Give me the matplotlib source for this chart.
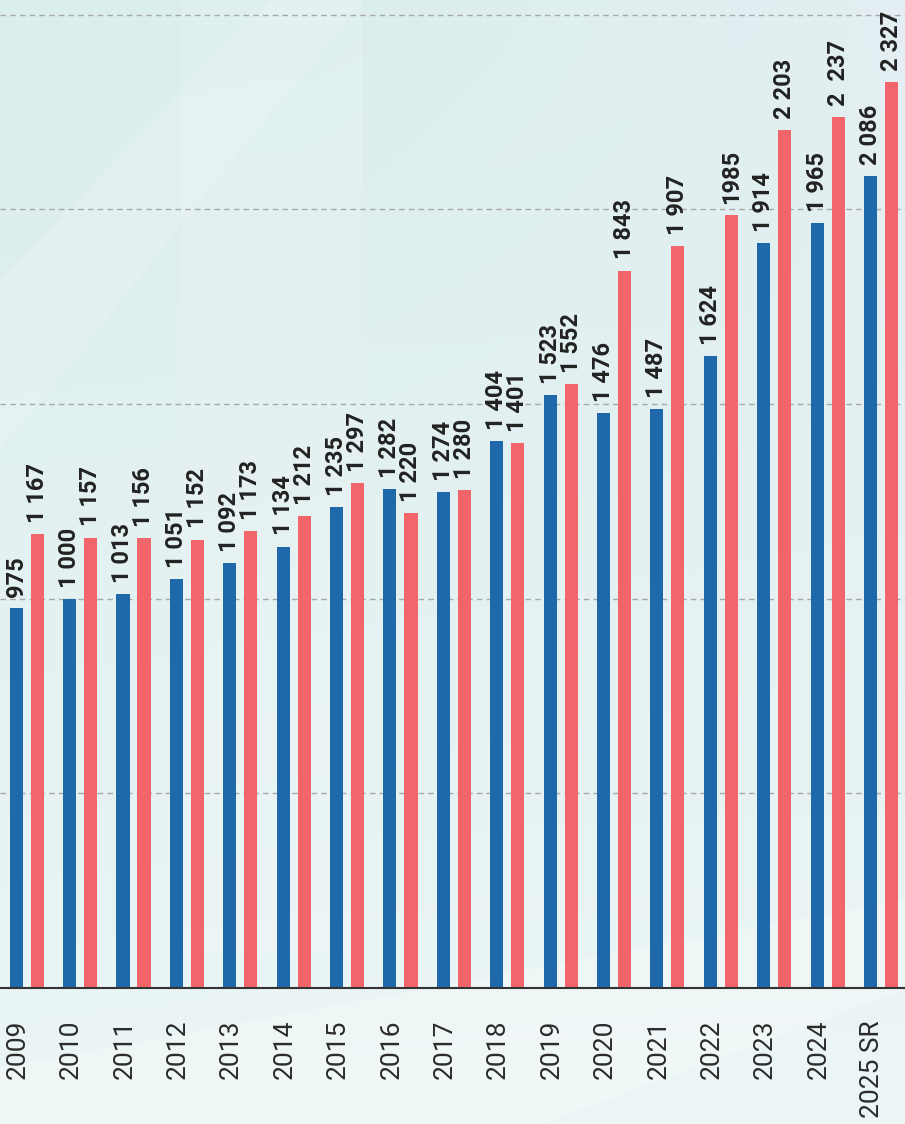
import numpy as np
import matplotlib
matplotlib.use("Agg")
import matplotlib.pyplot as plt
from matplotlib.patches import Polygon

years = ["2009", "2010", "2011", "2012", "2013", "2014", "2015", "2016", "2017",
         "2018", "2019", "2020", "2021", "2022", "2023", "2024", "2025 SR"]
blue_vals = [975, 1000, 1013, 1051, 1092, 1134, 1235, 1282, 1274, 1404, 1523,
             1476, 1487, 1624, 1914, 1965, 2086]
red_vals = [1167, 1157, 1156, 1152, 1173, 1212, 1297, 1220, 1280, 1401, 1552,
            1843, 1907, 1985, 2203, 2237, 2327]
blue_labels = ["975", "1 000", "1 013", "1 051", "1 092", "1 134", "1 235", "1 282",
               "1 274", "1 404", "1 523", "1 476", "1 487", "1 624", "1 914",
               "1 965", "2 086"]
red_labels = ["1 167", "1 157", "1 156", "1 152", "1 173", "1 212", "1 297", "1 220",
              "1 280", "1 401", "1 552", "1 843", "1 907", "1985", "2 203",
              "2  237", "2 327"]

BLUE = "#1f69aa"
RED = "#f2666b"

fig = plt.figure(figsize=(9.05, 11.24), dpi=100)

# background
bg = fig.add_axes([0, 0, 1, 1], zorder=-10)
bg.set_axis_off()
h, w = 200, 160
yy, xx = np.mgrid[0:1:h * 1j, 0:1:w * 1j]
top = np.array([0.86, 0.93, 0.93])
bot = np.array([0.93, 0.965, 0.965])
t = np.clip(yy * 0.9 + xx * 0.1, 0, 1)[..., None]
img = top * (1 - t) + bot * t
right_tint = np.array([0.90, 0.94, 0.955])
m = (np.clip((xx - 0.35) * 1.5, 0, 1) * (1 - yy) * 0.8)[..., None]
img = img * (1 - m) + right_tint * m
bg.imshow(img, extent=[0, 1, 0, 1], aspect="auto", origin="upper")
bg.add_patch(Polygon([[0.20, 1.0], [0.40, 1.0], [0.40, 0.15], [0.20, 0.15]],
                     closed=True, color="white", alpha=0.12, lw=0))
bg.add_patch(Polygon([[0.0, 0.0], [0.6, 0.0], [1.0, 0.12], [1.0, 0.2], [0.0, 0.05]],
                     closed=True, color="white", alpha=0.25, lw=0))
bg.add_patch(Polygon([[0.0, 0.75], [0.3, 1.0], [0.4, 1.0], [0.0, 0.6]],
                     closed=True, color="white", alpha=0.15, lw=0))
bg.set_xlim(0, 1)
bg.set_ylim(0, 1)

ax = fig.add_axes([0, 1 - 988 / 1124, 1, 988 / 1124])
ax.patch.set_alpha(0)

x = np.arange(len(years))
off = 0.197
bw = 0.245
bb = ax.bar(x - off, blue_vals, width=bw, color=BLUE, zorder=3)
rb = ax.bar(x + off, red_vals, width=bw, color=RED, zorder=3)

for rect, lab in zip(bb, blue_labels):
    ax.annotate(lab, (rect.get_x() + rect.get_width() / 2, rect.get_height()),
                xytext=(0, 8), textcoords="offset points", rotation=90,
                ha="center", va="bottom", fontsize=17, fontweight="bold",
                family="Roboto", color="#222222", annotation_clip=False)
for rect, lab in zip(rb, red_labels):
    ax.annotate(lab, (rect.get_x() + rect.get_width() / 2, rect.get_height()),
                xytext=(0, 8), textcoords="offset points", rotation=90,
                ha="center", va="bottom", fontsize=17, fontweight="bold",
                family="Roboto", color="#222222", annotation_clip=False)

ax.set_xlim(-0.5, 16.45)
ax.set_ylim(0, 2538)
ax.set_yticks([500, 1000, 1500, 2000, 2500])
ax.yaxis.grid(True, linestyle=(0, (4, 3)), color="#a8a8a8", lw=1, zorder=1)
ax.tick_params(axis="y", left=False, labelleft=False)
ax.set_xticks(x - 0.17)
ax.set_xticklabels(years, rotation=90, fontsize=19, family="Roboto", color="#2b2b2b")
ax.tick_params(axis="x", length=0, pad=23)
for s in ["top", "left", "right"]:
    ax.spines[s].set_visible(False)
ax.spines["bottom"].set_color("#333333")
ax.spines["bottom"].set_linewidth(1.5)
ax.spines["bottom"].set_zorder(4)

fig.savefig("out.png", dpi=100)
